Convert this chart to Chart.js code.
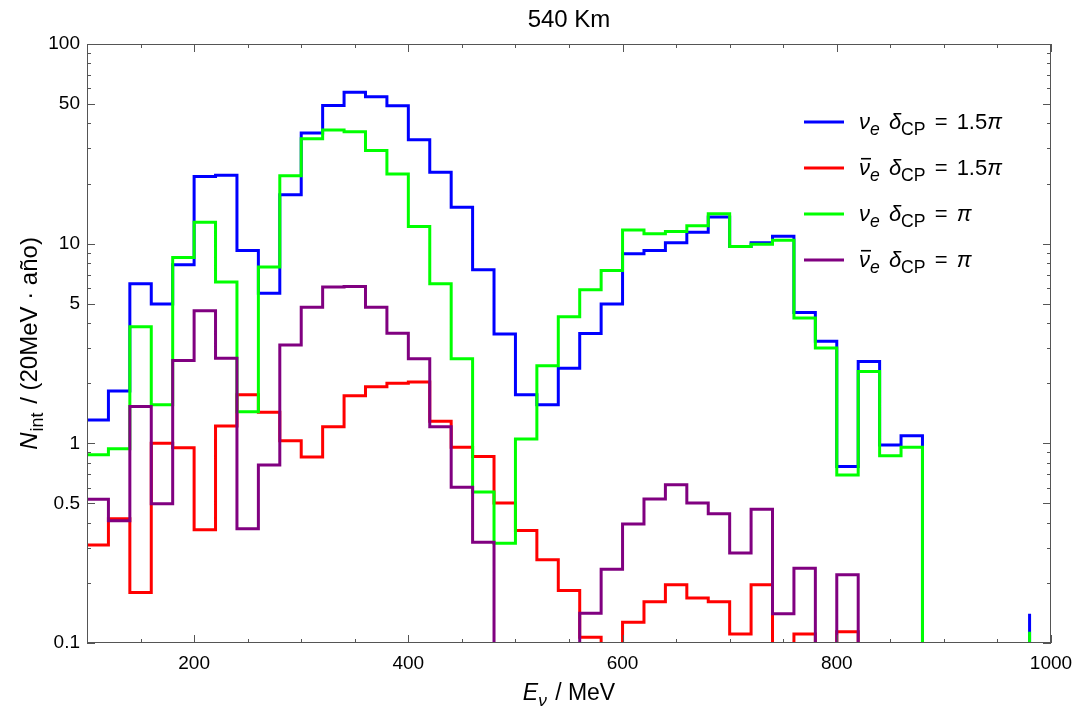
<!DOCTYPE html>
<html>
<head>
<meta charset="utf-8">
<script src="https://cdn.jsdelivr.net/npm/chart.js@4/dist/chart.umd.min.js"></script>
<style>
  html, body { margin: 0; padding: 0; background: #ffffff; }
  #wrap { width: 1083px; height: 717px; position: relative; }
</style>
</head>
<body>
<div id="wrap"><canvas id="c" width="1083" height="717"></canvas></div>
<script>
// ---------------- DATA ----------------
const TITLE = '540 Km';

// left edge of each 20 MeV bin (the last entry is the closing spike at 980 MeV)
const ENERGY_MEV = [100, 120, 140, 160, 180, 200, 220, 240, 260, 280,
                    300, 320, 340, 360, 380, 400, 420, 440, 460, 480,
                    500, 520, 540, 560, 580, 600, 620, 640, 660, 680,
                    700, 720, 740, 760, 780, 800, 820, 840, 860, 880,
                    900, 920, 940, 960, 980];

// nu_e, delta_CP = 1.5 pi
const NUE_DCP_15PI = [1.31, 1.83, 6.29, 4.99, 7.85, 21.7, 22.0, 9.23, 5.65, 17.6,
                      35.8, 49.2, 57.4, 54.5, 49.0, 33.1, 22.8, 15.2, 7.4, 3.53,
                      1.75, 1.56, 2.38, 3.55, 4.99, 8.89, 9.23, 10.1, 11.4, 13.6,
                      9.67, 10.1, 10.9, 4.52, 3.25, 0.765, 2.57, 0.98, 1.09, 0,
                      0, 0, 0, 0, 0.14];

// anti-nu_e, delta_CP = 1.5 pi
const ANUE_DCP_15PI = [0.31, 0.419, 0.179, 1.0, 0.95, 0.369, 1.22, 1.75, 1.43, 1.03,
                       0.853, 1.21, 1.73, 1.92, 2.0, 2.03, 1.29, 0.957, 0.859, 0.502,
                       0.366, 0.261, 0.183, 0.107, 0, 0.127, 0.161, 0.196, 0.168, 0.161,
                       0.111, 0.196, 0, 0.111, 0, 0.114, 0, 0, 0, 0,
                       0, 0, 0, 0, 0];

// nu_e, delta_CP = pi
const NUE_DCP_PI = [0.876, 0.94, 3.84, 1.56, 8.52, 12.8, 6.42, 1.44, 7.63, 21.9,
                    33.5, 37.1, 36.4, 29.3, 22.3, 12.2, 6.29, 2.65, 0.57, 0.316,
                    1.05, 2.45, 4.31, 5.87, 7.33, 11.7, 11.2, 11.5, 12.3, 14.1,
                    9.67, 9.94, 10.4, 4.24, 3.0, 0.695, 2.29, 0.866, 0.957, 0,
                    0, 0, 0, 0, 0.114];

// anti-nu_e, delta_CP = pi
const ANUE_DCP_PI = [0.525, 0.41, 1.53, 0.498, 2.6, 4.61, 2.67, 0.373, 0.78, 3.11,
                     4.81, 6.06, 6.1, 4.81, 3.56, 2.65, 1.21, 0.603, 0.32, 0,
                     0, 0, 0, 0.141, 0.234, 0.395, 0.527, 0.62, 0.502, 0.444,
                     0.282, 0.468, 0.14, 0.237, 0, 0.22, 0, 0, 0, 0,
                     0, 0, 0, 0, 0];

const SERIES_LABELS = ['νe δCP = 1.5π', 'ν̄e δCP = 1.5π', 'νe δCP = π', 'ν̄e δCP = π'];
const SERIES_COLORS = ['#0000ff', '#ff0000', '#00ff00', '#800080'];

const X_TICKS = [200, 400, 600, 800, 1000];
const X_MINOR_TICKS = [150, 250, 300, 350, 450, 500, 550, 650, 700, 750, 850, 900, 950];
const Y_TICKS = [0.1, 0.5, 1, 5, 10, 50, 100];
const Y_TICK_LABELS = ['0.1', '0.5', '1', '5', '10', '50', '100'];
const Y_MINOR_TICKS = [0.2, 0.3, 0.4, 0.6, 0.7, 0.8, 0.9, 2, 3, 4, 6, 7, 8, 9,
                       20, 30, 40, 60, 70, 80, 90];

// ---------------- STYLE ----------------
const FONT = '"Liberation Sans", Arial, Helvetica, sans-serif';
const FRAME_COLOR = '#555555';
const TEXT_COLOR = '#000000';
const BELOW_AXIS = 0.01;   // empty bins are drawn below the visible range

function toPoints(values) {
  return ENERGY_MEV.map((e, i) => ({ x: e, y: values[i] > 0 ? values[i] : BELOW_AXIS }));
}

// rich text: segments {t, italic, sub, bar, gap}
function drawRich(ctx, segs, x, y, size, align, subScale) {
  const ss = subScale || 0.72;
  const parts = segs.map(s => {
    const sz = s.sub ? size * ss : size;
    const font = (s.italic ? 'italic ' : '') + sz + 'px ' + FONT;
    ctx.font = font;
    return { s, font, w: ctx.measureText(s.t).width + (s.gap || 0) };
  });
  const total = parts.reduce((a, p) => a + p.w, 0);
  let cx = align === 'center' ? x - total / 2 : (align === 'right' ? x - total : x);
  ctx.textAlign = 'left';
  ctx.textBaseline = 'alphabetic';
  for (const p of parts) {
    ctx.font = p.font;
    const dy = p.s.sub ? size * 0.27 : 0;
    ctx.fillText(p.s.t, cx, y + dy);
    if (p.s.bar) {
      ctx.save();
      ctx.lineWidth = 1.6;
      ctx.strokeStyle = ctx.fillStyle;
      ctx.beginPath();
      ctx.moveTo(cx + 2, y - size * 0.74);
      ctx.lineTo(cx + p.w + 1, y - size * 0.74);
      ctx.stroke();
      ctx.restore();
    }
    cx += p.w;
  }
}

function legendSegs(bar, delta) {
  const segs = [
    { t: 'ν', italic: true, bar: bar },
    { t: 'e', italic: true, sub: true, gap: 3 },
    { t: ' ' },
    { t: 'δ', italic: true },
    { t: 'CP', sub: true, gap: 3 },
    { t: ' = ', gap: 3 }
  ];
  if (delta === 'π') segs.push({ t: 'π', italic: true });
  else { segs.push({ t: delta.replace('π', '') }); segs.push({ t: 'π', italic: true }); }
  return segs;
}
const LEGEND_RICH = [legendSegs(false, '1.5π'), legendSegs(true, '1.5π'),
                     legendSegs(false, 'π'), legendSegs(true, 'π')];

const framePlugin = {
  id: 'frame',
  afterDraw(chart) {
    const ctx = chart.ctx;
    const a = chart.chartArea;
    const xs = chart.scales.x, ys = chart.scales.y;
    ctx.save();
    ctx.strokeStyle = FRAME_COLOR;
    ctx.lineWidth = 1;
    ctx.strokeRect(a.left + 0.5, a.top + 0.5, a.right - a.left - 1, a.bottom - a.top - 1);
    ctx.beginPath();
    const tick = (v, len, horiz) => {
      if (horiz) {
        const px = Math.round(xs.getPixelForValue(v)) + 0.5;
        ctx.moveTo(px, a.bottom); ctx.lineTo(px, a.bottom - len);
        ctx.moveTo(px, a.top); ctx.lineTo(px, a.top + len);
      } else {
        const py = Math.round(ys.getPixelForValue(v)) + 0.5;
        ctx.moveTo(a.left, py); ctx.lineTo(a.left + len, py);
        ctx.moveTo(a.right, py); ctx.lineTo(a.right - len, py);
      }
    };
    X_TICKS.forEach(v => tick(v, 8, true));
    X_MINOR_TICKS.forEach(v => tick(v, 4, true));
    Y_TICKS.forEach(v => tick(v, 8, false));
    Y_MINOR_TICKS.forEach(v => tick(v, 4, false));
    ctx.stroke();

    // title
    ctx.fillStyle = TEXT_COLOR;
    ctx.font = '24px ' + FONT;
    ctx.textAlign = 'center';
    ctx.textBaseline = 'alphabetic';
    ctx.fillText(TITLE, (a.left + a.right) / 2, 27);

    // x axis title
    drawRich(ctx, [{ t: 'E', italic: true }, { t: 'ν', italic: true, sub: true, gap: 2 }, { t: ' / MeV' }],
             (a.left + a.right) / 2, 700, 23, 'center', 0.75);

    // y axis title
    ctx.save();
    ctx.translate(37, (a.top + a.bottom) / 2);
    ctx.rotate(-Math.PI / 2);
    drawRich(ctx, [{ t: 'N', italic: true, gap: 1 }, { t: 'int', sub: true, gap: 2 }, { t: ' / (20MeV · año)' }],
             0, 0, 24, 'center', 0.75);
    ctx.restore();

    // legend
    const lx = a.right - 247, ly = a.top + 78, step = 46;
    SERIES_COLORS.forEach((col, i) => {
      const y = ly + i * step;
      ctx.strokeStyle = col;
      ctx.lineWidth = 3;
      ctx.beginPath();
      ctx.moveTo(lx, y); ctx.lineTo(lx + 40, y);
      ctx.stroke();
      ctx.fillStyle = TEXT_COLOR;
      drawRich(ctx, LEGEND_RICH[i], lx + 55, y + 7, 22, 'left', 0.8);
    });
    ctx.restore();
  }
};

const datasets = [
  { label: SERIES_LABELS[0], data: toPoints(NUE_DCP_15PI), borderColor: SERIES_COLORS[0], order: 3 },
  { label: SERIES_LABELS[1], data: toPoints(ANUE_DCP_15PI), borderColor: SERIES_COLORS[1], order: 2 },
  { label: SERIES_LABELS[2], data: toPoints(NUE_DCP_PI), borderColor: SERIES_COLORS[2], order: 1 },
  { label: SERIES_LABELS[3], data: toPoints(ANUE_DCP_PI), borderColor: SERIES_COLORS[3], order: 0 }
].map(d => Object.assign(d, {
  stepped: true, borderWidth: 3, pointRadius: 0, fill: false, clip: 0, tension: 0,
  borderJoinStyle: 'miter', borderCapStyle: 'butt'
}));

new Chart(document.getElementById('c'), {
  type: 'line',
  data: { datasets },
  options: {
    responsive: false,
    animation: false,
    devicePixelRatio: 1,
    layout: { padding: { left: 0, right: 32, top: 44, bottom: 0 } },
    plugins: { legend: { display: false }, title: { display: false }, tooltip: { enabled: false } },
    scales: {
      x: {
        type: 'linear', min: 100, max: 1000,
        grid: { display: false, drawTicks: false },
        border: { display: false },
        afterBuildTicks: s => { s.ticks = X_TICKS.map(v => ({ value: v })); },
        afterFit: s => { s.height = 74; },
        ticks: { autoSkip: false, maxRotation: 0, padding: 9, color: TEXT_COLOR,
                 font: { family: FONT, size: 19 }, callback: v => String(v) }
      },
      y: {
        type: 'logarithmic', min: 0.1, max: 100,
        grid: { display: false, drawTicks: false },
        border: { display: false },
        afterBuildTicks: s => { s.ticks = Y_TICKS.map(v => ({ value: v })); },
        afterFit: s => { s.width = 87; },
        ticks: { autoSkip: false, padding: 7, color: TEXT_COLOR,
                 font: { family: FONT, size: 19 },
                 callback: (v, i) => Y_TICK_LABELS[i] }
      }
    }
  },
  plugins: [framePlugin]
});
</script>
</body>
</html>
